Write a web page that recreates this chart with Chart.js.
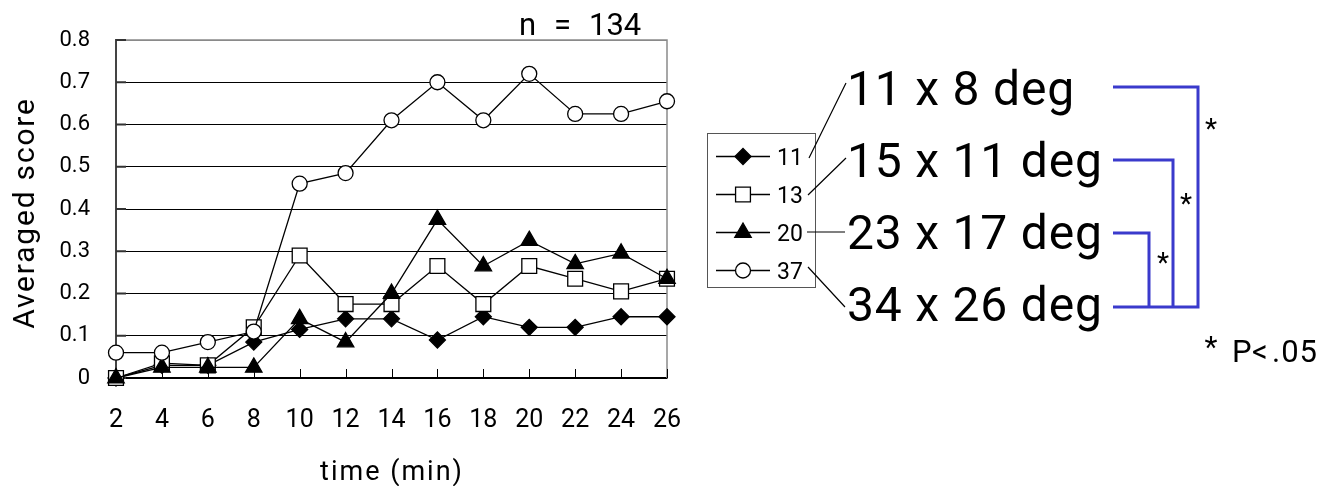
<!DOCTYPE html>
<html>
<head>
<meta charset="utf-8">
<script src="https://cdn.jsdelivr.net/npm/chart.js"></script>
<style>
  html, body { margin: 0; padding: 0; background: #fff; }
  canvas { display: block; }
</style>
</head>
<body>
<canvas id="chart" width="1341" height="486"></canvas>
<script>
// time points (min)
const times = ['2', '4', '6', '8', '10', '12', '14', '16', '18', '20', '22', '24', '26'];

// averaged score per stimulus size group
const score11 = [0, 0.03, 0.03, 0.085, 0.115, 0.14, 0.14, 0.09, 0.145, 0.12, 0.12, 0.145, 0.145];
const score13 = [0, 0.035, 0.03, 0.12, 0.29, 0.175, 0.175, 0.265, 0.175, 0.265, 0.235, 0.205, 0.235];
const score20 = [0, 0.025, 0.025, 0.025, 0.14, 0.085, 0.2, 0.375, 0.265, 0.325, 0.27, 0.295, 0.235];
const score37 = [0.06, 0.06, 0.085, 0.11, 0.46, 0.485, 0.61, 0.7, 0.61, 0.72, 0.625, 0.625, 0.655];

const seriesNames = ['11', '13', '20', '37'];
const stimulusSizes = ['11 x 8 deg', '15 x 11 deg', '23 x 17 deg', '34 x 26 deg'];
const yTickLabels = ['0', '0.1', '0.2', '0.3', '0.4', '0.5', '0.6', '0.7', '0.8'];

const FONT = 'Roboto, "Liberation Sans", Arial, sans-serif';

const styles = [
  { pointStyle: 'rectRot',  radius: 8,    fill: '#000' },
  { pointStyle: 'rect',     radius: 10.5, fill: '#fff' },
  { pointStyle: 'triangle', radius: 9.5,  fill: '#000' },
  { pointStyle: 'circle',   radius: 7.5,  fill: '#fff' }
];
const allScores = [score11, score13, score20, score37];

const datasets = allScores.map((d, i) => ({
  label: seriesNames[i],
  data: d,
  borderColor: '#000',
  borderWidth: 1.3,
  pointStyle: styles[i].pointStyle,
  pointRadius: styles[i].radius,
  pointBackgroundColor: styles[i].fill,
  pointBorderColor: '#000',
  pointBorderWidth: 1.3,
  tension: 0,
  clip: false,
  order: 4 - i
}));

function text(ctx, s, x, y, size, align, spacing) {
  ctx.font = size + 'px ' + FONT;
  ctx.textAlign = align || 'left';
  ctx.textBaseline = 'alphabetic';
  ctx.letterSpacing = (spacing || 0) + 'px';
  ctx.fillText(s, x, y);
  ctx.letterSpacing = '0px';
}

function marker(ctx, i, x, y) {
  ctx.save();
  ctx.fillStyle = styles[i].fill;
  ctx.strokeStyle = '#000';
  ctx.lineWidth = 1.3;
  Chart.helpers.drawPoint(ctx, { pointStyle: styles[i].pointStyle, radius: styles[i].radius, rotation: 0, borderWidth: 1.3 }, x, y);
  ctx.restore();
}

const decorations = {
  id: 'decorations',
  beforeDatasetsDraw(chart) {
    const ctx = chart.ctx, a = chart.chartArea, xs = chart.scales.x, ys = chart.scales.y;
    ctx.save();
    // grey frame on top and right of the plot
    ctx.strokeStyle = '#8a8a8a';
    ctx.lineWidth = 1.5;
    ctx.beginPath();
    ctx.moveTo(a.left, a.top);
    ctx.lineTo(a.right, a.top);
    ctx.lineTo(a.right, a.bottom);
    ctx.stroke();
    // inward tick marks on the time axis
    ctx.strokeStyle = '#000';
    ctx.lineWidth = 1;
    ctx.beginPath();
    times.forEach((t, i) => {
      const x = Math.round(xs.getPixelForValue(i)) + 0.5;
      ctx.moveTo(x, a.bottom);
      ctx.lineTo(x, a.bottom - 9);
    });
    ctx.stroke();
    // inward tick marks on the score axis
    ctx.strokeStyle = '#333';
    ctx.lineWidth = 2;
    ctx.beginPath();
    ys.ticks.forEach(t => {
      const y = ys.getPixelForValue(t.value);
      ctx.moveTo(a.left, y);
      ctx.lineTo(a.left + 10, y);
    });
    ctx.stroke();
    ctx.restore();
  },
  afterDraw(chart) {
    const ctx = chart.ctx, a = chart.chartArea;
    ctx.save();
    ctx.fillStyle = '#000';

    // axis titles
    ctx.save();
    ctx.translate(34, (a.top + a.bottom) / 2 + 4);
    ctx.rotate(-Math.PI / 2);
    text(ctx, 'Averaged score', 0, 0, 30, 'center', 1.8);
    ctx.restore();
    text(ctx, 'time (min)', 392, 480, 27, 'center', 2);

    // sample size
    text(ctx, 'n', 519, 35, 31, 'left');
    text(ctx, '=', 554, 35, 31, 'left');
    text(ctx, '134', 589, 35, 31, 'left');

    // legend box
    ctx.strokeStyle = '#555';
    ctx.lineWidth = 1;
    ctx.strokeRect(707.5, 133.5, 108, 154);
    const legendY = [156.5, 194.5, 232.5, 270.5];
    seriesNames.forEach((name, i) => {
      const y = legendY[i];
      ctx.strokeStyle = '#000';
      ctx.lineWidth = 1.3;
      ctx.beginPath();
      ctx.moveTo(716, y);
      ctx.lineTo(770, y);
      ctx.stroke();
      marker(ctx, i, 743, y);
      ctx.fillStyle = '#000';
      text(ctx, name, 777, y + 8, 23, 'left');
    });

    // connectors from legend entries to stimulus sizes
    ctx.strokeStyle = '#000';
    ctx.lineWidth = 1.2;
    ctx.beginPath();
    ctx.moveTo(809, 158); ctx.lineTo(846, 83);
    ctx.moveTo(808, 195); ctx.lineTo(846, 158);
    ctx.moveTo(807, 232); ctx.lineTo(845, 232);
    ctx.moveTo(808, 267); ctx.lineTo(845, 307);
    ctx.stroke();

    // stimulus size labels
    const sizeBaselines = [105, 177, 249, 321];
    stimulusSizes.forEach((s, i) => text(ctx, s, 847, sizeBaselines[i], 48, 'left', 0.8));

    // significance brackets
    ctx.strokeStyle = '#3a3acc';
    ctx.lineWidth = 3;
    ctx.lineJoin = 'miter';
    ctx.beginPath();
    ctx.moveTo(1113, 87);  ctx.lineTo(1198, 87);  ctx.lineTo(1198, 307); ctx.lineTo(1113, 307);
    ctx.moveTo(1113, 160); ctx.lineTo(1173, 160); ctx.lineTo(1173, 307);
    ctx.moveTo(1113, 233); ctx.lineTo(1149, 233); ctx.lineTo(1149, 307);
    ctx.stroke();

    ctx.fillStyle = '#000';
    text(ctx, '*', 1211, 138, 28, 'center');
    text(ctx, '*', 1186, 213, 28, 'center');
    text(ctx, '*', 1163, 272, 28, 'center');

    // significance note
    text(ctx, '*', 1211, 357, 30, 'center');
    text(ctx, 'P', 1232, 362, 31, 'left');
    text(ctx, '<', 1252, 362, 31, 'left');
    text(ctx, '.05', 1272, 362, 31, 'left', 1);

    ctx.restore();
  }
};

new Chart(document.getElementById('chart'), {
  type: 'line',
  data: { labels: times, datasets },
  options: {
    responsive: false,
    animation: false,
    events: [],
    layout: { padding: { left: 0, top: 40, right: 674, bottom: 0 } },
    plugins: { legend: { display: false }, tooltip: { enabled: false } },
    scales: {
      x: {
        offset: false,
        grid: { display: false, drawTicks: false },
        border: { display: true, color: '#000', width: 1.5 },
        ticks: {
          color: '#000',
          font: { family: FONT, size: 25 },
          padding: 28,
          autoSkip: false,
          maxRotation: 0
        },
        afterFit(scale) { scale.height = 108; }
      },
      y: {
        min: 0,
        max: 0.8,
        grid: {
          drawTicks: false,
          color: ctx => (ctx.tick && ctx.tick.value >= 0.8 ? '#8a8a8a' : '#000'),
          lineWidth: 1
        },
        border: { display: true, color: '#444', width: 2 },
        ticks: {
          stepSize: 0.1,
          color: '#000',
          font: { family: FONT, size: 22 },
          padding: 26,
          callback: (v, i) => yTickLabels[i]
        },
        afterFit(scale) { scale.width = 116; }
      }
    }
  },
  plugins: [decorations]
});
</script>
</body>
</html>
